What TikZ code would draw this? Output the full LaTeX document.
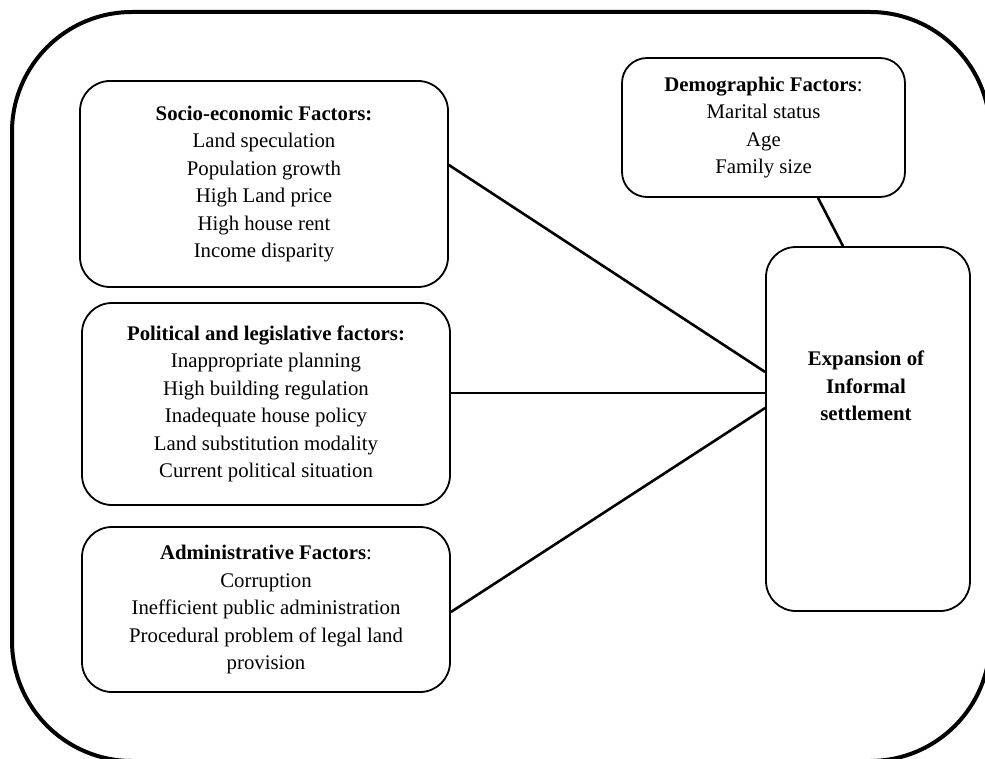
\documentclass[tikz,border=0pt]{standalone}
\usepackage{fontspec}
\setmainfont{Liberation Serif}
\begin{document}
\begin{tikzpicture}[x=0.5pt,y=-0.5pt,
  factorbox/.style={draw,line width=0.9pt,rounded corners=15pt,align=center,inner sep=0pt,
    font=\fontsize{10.4pt}{13.75pt}\selectfont},
  link/.style={line width=1.3pt}]
\useasboundingbox (0,0) rectangle (985,759);
\begin{scope}
\clip (0,0) rectangle (985,759);
\draw[line width=2pt,rounded corners=60pt] (12,12) rectangle (990,761);
\end{scope}
\node[factorbox,minimum width=184pt,minimum height=103pt] (socio) at (264,184)
  {\textbf{Socio-economic Factors:}\\Land speculation\\Population growth\\High Land price\\High house rent\\Income disparity};
\node[factorbox,minimum width=184pt,minimum height=101pt] (pol) at (266,404)
  {\textbf{Political and legislative factors:}\\Inappropriate planning\\High building regulation\\Inadequate house policy\\Land substitution modality\\Current political situation};
\node[factorbox,minimum width=184pt,minimum height=82.5pt] (adm) at (266,609.5)
  {\textbf{Administrative Factors}:\\Corruption\\Inefficient public administration\\Procedural problem of legal land\\provision};
\node[factorbox,rounded corners=12.5pt,minimum width=141.5pt,minimum height=69.5pt] (demo) at (763.5,127.5)
  {\textbf{Demographic Factors}:\\Marital status\\Age\\Family size};
\node[factorbox,minimum width=102pt,minimum height=182pt] (exp) at (868,429) {};
\node[align=center,inner sep=0pt,font=\fontsize{10.4pt}{13.75pt}\selectfont\bfseries] (exptext) at (866,386)
  {Expansion of\\Informal\\settlement};
\draw[link] ([yshift=9.5pt]socio.east) -- ([yshift=28.5pt]exp.west);
\draw[link] ([yshift=5.5pt]pol.east) -- ([yshift=18pt]exp.west);
\draw[link] ([yshift=-1.25pt]adm.east) -- ([yshift=10.5pt]exp.west);
\draw[link] ([xshift=27.25pt]demo.south) -- ([xshift=-12.5pt]exp.north);
\end{tikzpicture}
\end{document}
